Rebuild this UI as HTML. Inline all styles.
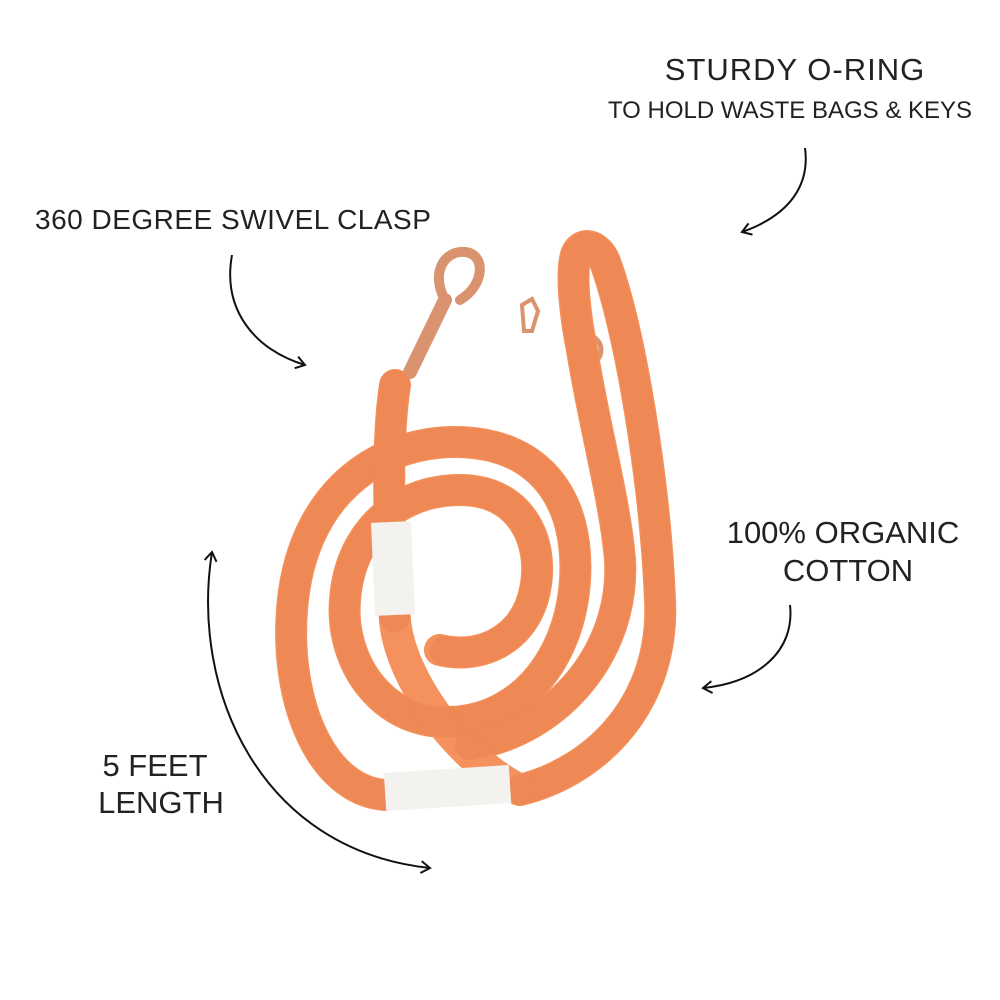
<!DOCTYPE html>
<html><head><style>
body{margin:0;background:#fff;}
svg{display:block}
text{font-family:"Liberation Sans",sans-serif;fill:#222;}
</style></head><body>
<svg width="1000" height="1000" viewBox="0 0 1000 1000" xmlns="http://www.w3.org/2000/svg">
<rect width="1000" height="1000" fill="#fff"/>
<defs>
<marker id="ah" markerWidth="14" markerHeight="14" refX="10" refY="7" orient="auto" markerUnits="userSpaceOnUse">
<path d="M1,1 L10,7 L1,13" fill="none" stroke="#111" stroke-width="2"/>
</marker>
<marker id="ahs" markerWidth="14" markerHeight="14" refX="10" refY="7" orient="auto-start-reverse" markerUnits="userSpaceOnUse">
<path d="M1,1 L10,7 L1,13" fill="none" stroke="#111" stroke-width="2"/>
</marker>
</defs>
<text x="795" y="80" font-size="31" text-anchor="middle" letter-spacing="1">STURDY O-RING</text>
<text x="790" y="118" font-size="24" text-anchor="middle">TO HOLD WASTE BAGS &amp; KEYS</text>
<text x="35" y="229" font-size="28" letter-spacing="0.5">360 DEGREE SWIVEL CLASP</text>
<text x="843" y="543" font-size="31" text-anchor="middle">100% ORGANIC</text>
<text x="848" y="581" font-size="31" text-anchor="middle">COTTON</text>
<text x="155" y="776" font-size="31" text-anchor="middle">5 FEET</text>
<text x="161" y="813" font-size="31" text-anchor="middle">LENGTH</text>
<g fill="none" stroke="#111" stroke-width="2">
<path d="M805,148 C810,185 790,215 742,232" marker-end="url(#ah)"/>
<path d="M232,255 C222,310 255,350 305,365" marker-end="url(#ah)"/>
<path d="M790,605 C795,650 760,682 703,688" marker-end="url(#ah)"/>
<path d="M212,552 C190,690 260,850 430,868" marker-start="url(#ahs)" marker-end="url(#ah)"/>
</g>
<g fill="none" stroke="#d9936f" stroke-linecap="round">
<path d="M410,372 L445,300" stroke-width="14"/>
<path d="M445,300 C430,272 445,250 465,252 C486,254 485,285 460,300" stroke-width="10"/>
<circle cx="586" cy="350" r="15" stroke-width="5"/>
<path d="M522,305 l10,-6 l6,12 l-6,20 l-8,0z" stroke-width="4"/>
</g>
<g fill="none" stroke-linecap="round" stroke-width="32">
<g stroke="#f5915c">
<path d="M385,795 C320,790 285,700 292,610 C300,500 370,445 450,442 C540,440 580,500 575,580 C570,660 520,720 450,722 C380,724 340,660 345,600 C350,530 400,490 460,490 C520,490 545,540 535,590 C525,640 480,660 440,650"/>
<path d="M520,790 C600,770 665,700 660,600 C655,480 630,330 605,262 C598,245 582,240 576,255 C570,275 576,320 582,350 C595,430 615,500 620,560 C625,650 560,730 470,745"/>
<path d="M395,385 C385,450 390,560 395,620 C400,680 460,760 520,790"/>
</g>
<g stroke="#e37846" stroke-width="30" stroke-dasharray="2 9" opacity="0.35">
<path d="M385,795 C320,790 285,700 292,610 C300,500 370,445 450,442 C540,440 580,500 575,580 C570,660 520,720 450,722 C380,724 340,660 345,600 C350,530 400,490 460,490 C520,490 545,540 535,590 C525,640 480,660 440,650"/>
<path d="M520,790 C600,770 665,700 660,600 C655,480 630,330 605,262 C598,245 582,240 576,255 C570,275 576,320 582,350 C595,430 615,500 620,560 C625,650 560,730 470,745"/>
<path d="M395,385 C385,450 390,560 395,620"/>
</g>
<path d="M391,522 L395,615" stroke="#f4f2ee" stroke-width="40" stroke-linecap="butt"/>
<path d="M385,792 L510,784" stroke="#f4f2ee" stroke-width="38" stroke-linecap="butt"/>
</g>
</svg>
</body></html>
